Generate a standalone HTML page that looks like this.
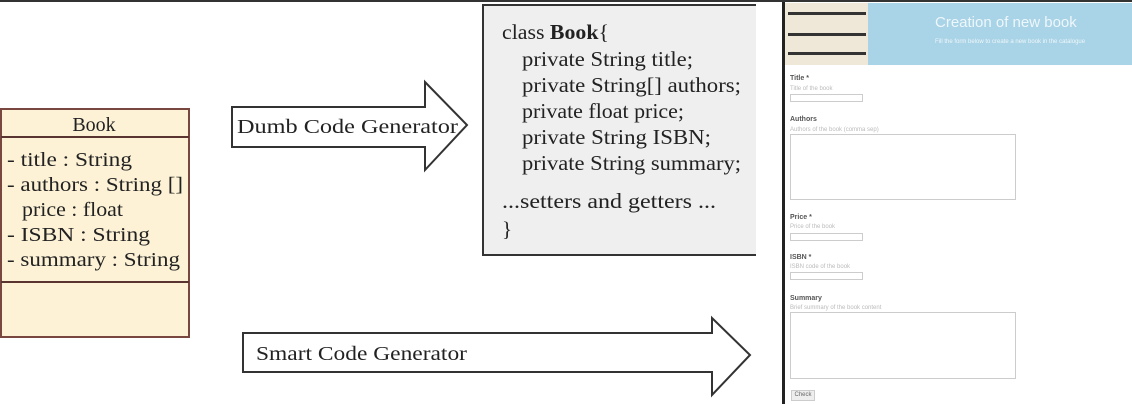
<!DOCTYPE html>
<html><head><meta charset="utf-8"><style>
*{margin:0;padding:0;box-sizing:border-box}
body{width:1132px;height:404px;position:relative;background:#fff;overflow:hidden;font-family:"Liberation Serif",serif;color:#222}
.a{position:absolute}
.panel{left:782px;top:2px;width:350px;height:402px;border-left:3px solid #222;background:#fff}
.fl{position:absolute;font-family:"Liberation Sans",sans-serif;font-size:7px;font-weight:bold;color:#555}
.fh{position:absolute;font-family:"Liberation Sans",sans-serif;font-size:6px;color:#bbb}
.in{position:absolute;border:1px solid #ccc;background:#fff}
</style></head><body>
<div class="a" style="left:0;top:0;width:1132px;height:2px;background:#333"></div>
<svg class="a" style="left:0;top:0" width="1132" height="404" font-family="Liberation Serif" fill="#222">
<rect x="1" y="109" width="188" height="228" fill="#fdf2d6" stroke="#7a4640" stroke-width="2"/>
<line x1="1" y1="137" x2="189" y2="137" stroke="#5a3430" stroke-width="2"/>
<line x1="1" y1="282" x2="189" y2="282" stroke="#5a3430" stroke-width="2"/>
<text x="94" y="131" font-size="20" text-anchor="middle">Book</text>
<text x="7" y="166" font-size="20" textLength="125" lengthAdjust="spacingAndGlyphs">- title : String</text>
<text x="7" y="191" font-size="20" textLength="176" lengthAdjust="spacingAndGlyphs">- authors : String []</text>
<text x="22" y="216" font-size="20" textLength="101" lengthAdjust="spacingAndGlyphs">price : float</text>
<text x="7" y="241" font-size="20" textLength="143" lengthAdjust="spacingAndGlyphs">- ISBN : String</text>
<text x="7" y="266" font-size="20" textLength="173" lengthAdjust="spacingAndGlyphs">- summary : String</text>

<polygon points="232,107 425,107 425,82 467,125 425,170 425,147 232,147" fill="#fff" stroke="#333" stroke-width="2"/>
<polygon points="243,333 712,333 712,318 750,355 712,395 712,372 243,372" fill="#fff" stroke="#333" stroke-width="2"/>
<text x="237" y="133" font-size="20" textLength="221" lengthAdjust="spacingAndGlyphs">Dumb Code Generator</text>
<text x="256" y="360" font-size="20" textLength="211" lengthAdjust="spacingAndGlyphs">Smart Code Generator</text>

<rect x="483" y="5" width="273" height="250" fill="#efefef"/>
<line x1="482" y1="5" x2="756" y2="5" stroke="#333" stroke-width="2"/>
<line x1="483" y1="5" x2="483" y2="255" stroke="#333" stroke-width="2"/>
<line x1="482" y1="255" x2="756" y2="255" stroke="#333" stroke-width="2"/>
<g font-size="21">
<text x="502" y="39" textLength="107" lengthAdjust="spacingAndGlyphs">class <tspan font-weight="bold">Book</tspan>{</text>
<text x="522" y="66" textLength="171" lengthAdjust="spacingAndGlyphs">private String title;</text>
<text x="522" y="92" textLength="219" lengthAdjust="spacingAndGlyphs">private String[] authors;</text>
<text x="522" y="118" textLength="162" lengthAdjust="spacingAndGlyphs">private float price;</text>
<text x="522" y="144" textLength="189" lengthAdjust="spacingAndGlyphs">private String ISBN;</text>
<text x="522" y="170" textLength="219" lengthAdjust="spacingAndGlyphs">private String summary;</text>
<text x="502" y="208" textLength="214" lengthAdjust="spacingAndGlyphs">...setters and getters ...</text>
<text x="502" y="236">}</text>
</g>
</svg>
<div class="a panel">
 <div class="a" style="left:0;top:1px;width:83px;height:62px;background:#efe8d8"></div>
 <div class="a" style="left:3px;top:10px;width:78px;height:3px;background:#333"></div>
 <div class="a" style="left:3px;top:31px;width:78px;height:3px;background:#333"></div>
 <div class="a" style="left:3px;top:50px;width:78px;height:3px;background:#333"></div>
 <div class="a" style="left:83px;top:1px;width:267px;height:62px;background:#a9d3e6"></div>
 <div class="a" style="left:150px;top:12px;font-family:'Liberation Sans',sans-serif;font-size:15px;color:#eef7fb">Creation of new book</div>
 <div class="a" style="left:150px;top:37px;font-family:'Liberation Sans',sans-serif;font-size:6px;color:#eef7fb">Fill the form below to create a new book in the catalogue</div>
 <div class="fl" style="left:5px;top:73px">Title *</div><div class="fh" style="left:5px;top:84px">Title of the book</div><div class="in" style="left:5px;top:92px;width:73px;height:8px"></div>
 <div class="fl" style="left:5px;top:114px">Authors</div><div class="fh" style="left:5px;top:125px">Authors of the book (comma sep)</div><div class="in" style="left:5px;top:132px;width:226px;height:66px"></div>
 <div class="fl" style="left:5px;top:212px">Price *</div><div class="fh" style="left:5px;top:222px">Price of the book</div><div class="in" style="left:5px;top:231px;width:73px;height:8px"></div>
 <div class="fl" style="left:5px;top:252px">ISBN *</div><div class="fh" style="left:5px;top:262px">ISBN code of the book</div><div class="in" style="left:5px;top:270px;width:73px;height:8px"></div>
 <div class="fl" style="left:5px;top:293px">Summary</div><div class="fh" style="left:5px;top:303px">Brief summary of the book content</div><div class="in" style="left:5px;top:310px;width:226px;height:67px"></div>
 <div class="in" style="left:6px;top:388px;width:24px;height:11px;background:#eee;font-family:'Liberation Sans',sans-serif;font-size:6px;color:#666;text-align:center;line-height:9px">Check</div>
</div>
</body></html>
